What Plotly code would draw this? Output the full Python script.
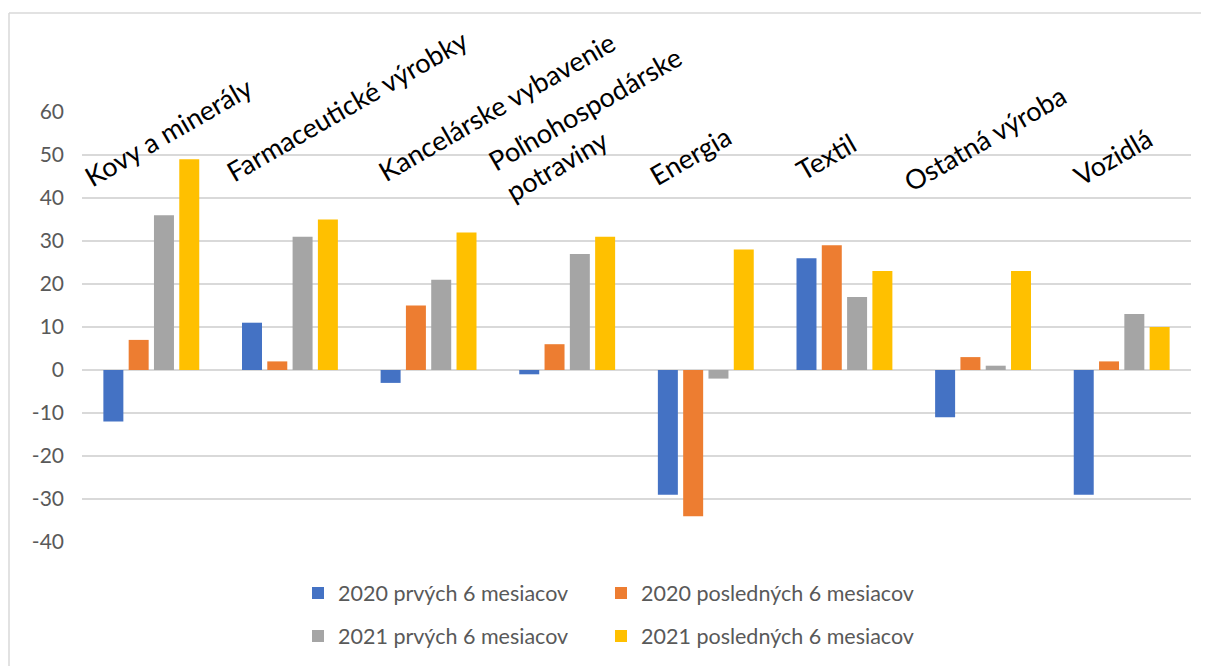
import plotly.graph_objects as go

categories = ["Kovy a minerály", "Farmaceutické výrobky", "Kancelárske vybavenie",
              "Poľnohospodárske<br>potraviny", "Energia", "Textil", "Ostatná výroba", "Vozidlá"]
series_names = ["2020 prvých 6 mesiacov", "2020 posledných 6 mesiacov",
                "2021 prvých 6 mesiacov", "2021 posledných 6 mesiacov"]
s2020_h1 = [-12, 11, -3, -1, -29, 26, -11, -29]
s2020_h2 = [7, 2, 15, 6, -34, 29, 3, 2]
s2021_h1 = [36, 31, 21, 27, -2, 17, 1, 13]
s2021_h2 = [49, 35, 32, 31, 28, 23, 23, 10]
y_ticks = [-40, -30, -20, -10, 0, 10, 20, 30, 40, 50, 60]
y_tick_labels = ["-40", "-30", "-20", "-10", "0", "10", "20", "30", "40", "50", "60"]

colors = ["#4472C4", "#ED7D31", "#A5A5A5", "#FFC000"]
series = [s2020_h1, s2020_h2, s2021_h1, s2021_h2]
legend_ids = ["legend", "legend2", "legend3", "legend4"]

x_idx = list(range(len(categories)))

fig = go.Figure()
for name, vals, col, lg in zip(series_names, series, colors, legend_ids):
    fig.add_trace(go.Bar(x=x_idx, y=vals, name=name, marker_color=col,
                         marker_line_width=0, legend=lg))

# page has an 8px body margin; the chart frame continues past the window edge
OFF = 8
W, H = 1230, 680
ml, mt = 82 - OFF, 112 - OFF
pw, ph = 1109, 430
mr, mb = W - ml - pw, H - mt - ph

def py(page_y):
    return (mt + ph - (page_y - OFF)) / ph

def px(page_x):
    return ((page_x - OFF) - ml) / pw

# category label placement (pixel centres, offset from category centre)
label_dx = [17, 57, 68, 26, -16, -19, 1, -9]
label_cy = [131, 106, 107, 124, 155, 156, 138, 156]
annotations = []
for i, (cat, dx, cy) in enumerate(zip(categories, label_dx, label_cy)):
    annotations.append(dict(
        x=i, xref="x", xshift=dx, y=py(cy), yref="paper",
        text=cat, showarrow=False, textangle=-30, xanchor="center", yanchor="middle",
        align="left", font=dict(family="Lato", size=27, color="#000000")))

# chart-area frame: only the left and top edges are visible in the view
frame = dict(color="#D9D9D9", width=1.5)
fig.add_shape(type="line", xref="paper", yref="paper",
              x0=px(9), x1=px(9), y0=py(700), y1=py(13), line=frame, layer="below")
fig.add_shape(type="line", xref="paper", yref="paper",
              x0=px(9), x1=px(1300), y0=py(13), y1=py(13), line=frame, layer="below")

legend_pos = [(298, 593), (601, 593), (298, 636), (601, 636)]
legend_layouts = {}
for lg, (lx, ly) in zip(legend_ids, legend_pos):
    legend_layouts[lg] = dict(orientation="h", x=px(lx), xanchor="left",
                              y=py(ly), yanchor="middle",
                              font=dict(family="Lato", size=21.5, color="#595959"),
                              bgcolor="rgba(0,0,0,0)")

fig.update_layout(
    width=W, height=H,
    margin=dict(l=ml, r=mr, t=mt, b=mb),
    paper_bgcolor="white", plot_bgcolor="white",
    barmode="group", bargap=0.27, bargroupgap=0.21,
    font=dict(family="Lato", color="#595959"),
    xaxis=dict(range=[-0.5, len(categories) - 0.5], showticklabels=False, showgrid=False,
               zeroline=False, showline=False, ticks=""),
    yaxis=dict(range=[-40, 60], tickvals=y_ticks, ticktext=y_tick_labels,
               showgrid=True, gridcolor="#D9D9D9",
               gridwidth=1.5, zeroline=True, zerolinecolor="#D9D9D9", zerolinewidth=1.5,
               showline=False, ticks="", ticklabelstandoff=17,
               tickfont=dict(family="Lato", size=21, color="#595959")),
    annotations=annotations,
    showlegend=True,
    **legend_layouts,
)

fig.write_html("out.html")
